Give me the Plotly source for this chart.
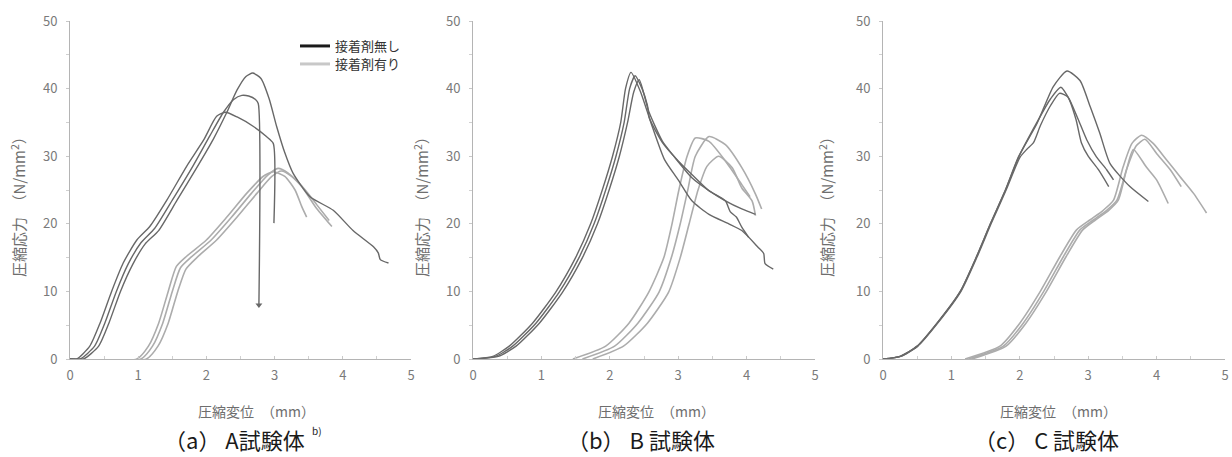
import plotly.graph_objects as go

# ---------------- data ----------------
# Panel A : no adhesive (接着剤無し)
A_n1_x = [0, 0.1, 0.29, 0.44, 0.61, 0.78, 0.98, 1.17, 1.42, 1.71, 1.96, 2.15, 2.28, 2.45, 2.69, 2.88, 2.98, 2.99]
A_n1_y = [0, 0, 1.9, 5.3, 10, 14.2, 17.6, 19.6, 23.5, 28.5, 32.4, 35.9, 36.5, 35.8, 34.4, 32.9, 31.9, 20.1]
A_n2_x = [0, 0.15, 0.36, 0.51, 0.68, 0.85, 1.04, 1.24, 1.5, 1.8, 2.05, 2.25, 2.4, 2.52, 2.62, 2.72, 2.76, 2.77]
A_n2_y = [0, 0, 1.9, 5.3, 10, 14, 17.2, 19.3, 23.5, 28.5, 33, 36.5, 38.4, 39, 38.9, 38.4, 37.8, 8]
A_n3_x = [0, 0.2, 0.42, 0.57, 0.74, 0.92, 1.1, 1.3, 1.57, 1.87, 2.1, 2.3, 2.45, 2.58, 2.68, 2.8, 2.92, 3.03, 3.15, 3.27,
          3.52, 3.86, 4.15, 4.45, 4.52, 4.55, 4.67]
A_n3_y = [0, 0, 1.9, 5.3, 10, 14, 17, 19, 23.5, 28.5, 32.5, 36.5, 39.8, 41.8, 42.3, 41.5, 38.5, 34.4, 30.5, 27.5,
          24, 22, 19, 16.6, 15.7, 14.7, 14.2]
# Panel A : with adhesive (接着剤有り)
A_a1_x = [0, 0.98, 1.15, 1.3, 1.44, 1.56, 1.71, 2.0, 2.3, 2.59, 2.83, 2.98, 3.15, 3.3, 3.4, 3.47]
A_a1_y = [0, 0, 1.9, 5.3, 10, 13.7, 15.2, 17.6, 21, 24.5, 27, 27.7, 27, 25, 22.5, 21]
A_a2_x = [0, 1.04, 1.21, 1.36, 1.5, 1.62, 1.78, 2.07, 2.37, 2.66, 2.9, 3.05, 3.2, 3.4, 3.6, 3.84]
A_a2_y = [0, 0, 1.9, 5.3, 10, 13.5, 15.1, 17.6, 21, 24.5, 27.2, 28.2, 27.5, 25.5, 22.5, 19.6]
A_a3_x = [0, 1.12, 1.29, 1.44, 1.58, 1.7, 1.86, 2.15, 2.45, 2.74, 2.96, 3.1, 3.25, 3.45, 3.62, 3.8]
A_a3_y = [0, 0, 1.9, 5.3, 10, 13.3, 15, 17.6, 21, 24.5, 27, 27.8, 27, 25, 22.8, 20.5]

# Panel B : no adhesive
B_n1_x = [0, 0.29, 0.53, 0.87, 1.21, 1.5, 1.72, 1.89, 2.04, 2.16, 2.23, 2.31, 2.45, 2.6, 2.8, 3.0, 3.2, 3.45, 3.74, 3.93, 4.17, 4.25, 4.27, 4.39]
B_n1_y = [0, 0.4, 1.9, 5.3, 9.9, 15, 20, 25, 30, 35, 40, 42.4, 39.5, 35, 29.5, 26.5, 23.4, 21.4, 20, 19, 16.5, 15.6, 14.1, 13.3]
B_n2_x = [0, 0.33, 0.58, 0.92, 1.26, 1.55, 1.77, 1.94, 2.09, 2.21, 2.29, 2.37, 2.47, 2.55, 2.58, 2.77, 3.0, 3.2, 3.45, 3.69, 3.76, 3.85, 3.93, 4.03]
B_n2_y = [0, 0.4, 1.9, 5.3, 9.9, 15, 20, 25, 30, 35, 40, 41.9, 40, 37.5, 35.6, 32, 29.3, 27.3, 24.9, 23.4, 21.8, 21, 19.5, 18]
B_n3_x = [0, 0.37, 0.63, 0.97, 1.31, 1.6, 1.82, 1.99, 2.14, 2.26, 2.35, 2.43, 2.57, 2.77, 2.96, 3.2, 3.45, 3.69, 3.93, 4.13]
B_n3_y = [0, 0.4, 1.9, 5.3, 9.9, 15, 20, 25, 30, 35, 39.5, 41.3, 36.6, 32.2, 29.7, 26.8, 24.9, 23.4, 22.2, 21.4]
# Panel B : with adhesive
B_a1_x = [1.46, 1.94, 2.28, 2.57, 2.79, 2.91, 3.01, 3.13, 3.25, 3.45, 3.69, 3.93, 4.05]
B_a1_y = [0, 1.9, 5.3, 9.9, 15, 20, 25, 30, 32.7, 32.2, 29.3, 25.8, 24]
B_a2_x = [1.6, 2.07, 2.41, 2.72, 2.9, 3.03, 3.14, 3.25, 3.45, 3.69, 3.93, 4.13, 4.22]
B_a2_y = [0, 1.9, 5.3, 9.9, 15, 20, 25, 30, 32.9, 31.7, 28.3, 24.4, 22.2]
B_a3_x = [1.75, 2.2, 2.55, 2.86, 3.03, 3.16, 3.29, 3.42, 3.59, 3.79, 3.93, 4.08, 4.13]
B_a3_y = [0, 1.9, 5.3, 9.9, 15, 20, 25, 28.5, 30, 28.3, 25.3, 23.4, 21.2]

# Panel C : no adhesive
C_n1_x = [0, 0.25, 0.5, 0.79, 1.13, 1.37, 1.57, 1.79, 1.98, 2.25, 2.49, 2.69, 2.88, 3.03, 3.17, 3.32, 3.61, 3.88]
C_n1_y = [0, 0.4, 1.9, 5.3, 10, 15.2, 20, 25, 29.9, 34.8, 40.3, 42.6, 41.2, 37.3, 33.4, 28.9, 25.5, 23.3]
C_n2_x = [0, 0.25, 0.5, 0.79, 1.13, 1.37, 1.57, 1.79, 1.99, 2.25, 2.45, 2.6, 2.73, 2.88, 2.98, 3.12, 3.27, 3.37]
C_n2_y = [0, 0.4, 1.9, 5.3, 10, 15.2, 20, 25, 30, 35, 38.5, 40.2, 38.3, 34.8, 32.4, 29.9, 28, 26.5]
C_n3_x = [0, 0.26, 0.51, 0.8, 1.14, 1.38, 1.58, 1.8, 2.0, 2.1, 2.2, 2.3, 2.45, 2.58, 2.7, 2.82, 2.9, 3.0, 3.15, 3.3]
C_n3_y = [0, 0.4, 1.9, 5.3, 10, 15.2, 20, 25, 29.8, 31, 32, 34.5, 37.5, 39.3, 38.8, 35.5, 32, 30, 28, 25.5]
# Panel C : with adhesive
C_a1_x = [1.2, 1.71, 2.0, 2.3, 2.59, 2.83, 3.03, 3.22, 3.37, 3.51, 3.64, 3.78, 3.95, 4.15, 4.34, 4.54, 4.73]
C_a1_y = [0, 1.9, 5.3, 10, 15.2, 19.1, 20.6, 22, 23.5, 28.4, 31.9, 33.1, 31.9, 29.4, 27, 24.5, 21.6]
C_a2_x = [1.25, 1.76, 2.05, 2.35, 2.64, 2.88, 3.08, 3.27, 3.42, 3.56, 3.7, 3.83, 4.0, 4.2, 4.36]
C_a2_y = [0, 1.9, 5.3, 10, 15.2, 19.1, 20.6, 22, 23.5, 28, 31.5, 32.5, 30.4, 28, 25.5]
C_a3_x = [1.3, 1.8, 2.09, 2.39, 2.68, 2.92, 3.11, 3.3, 3.44, 3.56, 3.66, 3.85, 4.0, 4.17]
C_a3_y = [0, 1.9, 5.3, 10, 15.2, 19.1, 20.6, 22, 23.5, 28, 31, 28.4, 26.5, 23]

x_ticks = [0, 1, 2, 3, 4, 5]
y_ticks = [0, 10, 20, 30, 40, 50]
legend_labels = ["接着剤無し", "接着剤有り"]
captions = ["（a） A試験体", "（b） B 試験体", "（c） C 試験体"]
x_title = "圧縮変位　（mm）"
y_title = "圧縮応力　（N/mm<sup>2</sup>）"

# ---------------- styling ----------------
FONT = "Noto Sans CJK JP"
DARK = "#686868"
LIGHT = "#acacac"
W, H = 1232, 457

panels = [
    ("x", "y", [(A_n1_x, A_n1_y), (A_n2_x, A_n2_y), (A_n3_x, A_n3_y)],
     [(A_a1_x, A_a1_y), (A_a2_x, A_a2_y), (A_a3_x, A_a3_y)]),
    ("x2", "y2", [(B_n1_x, B_n1_y), (B_n2_x, B_n2_y), (B_n3_x, B_n3_y)],
     [(B_a1_x, B_a1_y), (B_a2_x, B_a2_y), (B_a3_x, B_a3_y)]),
    ("x3", "y3", [(C_n1_x, C_n1_y), (C_n2_x, C_n2_y), (C_n3_x, C_n3_y)],
     [(C_a1_x, C_a1_y), (C_a2_x, C_a2_y), (C_a3_x, C_a3_y)]),
]

fig = go.Figure()
for xa, ya, none_curves, adh_curves in panels:
    for cx, cy in adh_curves:
        fig.add_trace(go.Scatter(x=cx, y=cy, mode="lines", xaxis=xa, yaxis=ya,
                                 line=dict(color=LIGHT, width=1.6, shape="spline", smoothing=0.6),
                                 showlegend=False, hoverinfo="skip"))
    for cx, cy in none_curves:
        fig.add_trace(go.Scatter(x=cx, y=cy, mode="lines", xaxis=xa, yaxis=ya,
                                 line=dict(color=DARK, width=1.4, shape="spline", smoothing=0.6),
                                 showlegend=False, hoverinfo="skip"))

# arrow head at the end of the sudden drop in panel A
fig.add_trace(go.Scatter(x=[A_n2_x[-1]], y=[A_n2_y[-1]], mode="markers", xaxis="x", yaxis="y",
                         marker=dict(symbol="triangle-down", size=6, color=DARK),
                         showlegend=False, hoverinfo="skip"))

# legend entries (two independent legends so their spacing matches)
fig.add_trace(go.Scatter(x=[None], y=[None], mode="lines", name=legend_labels[0], legend="legend",
                         line=dict(color="#1a1a1a", width=3)))
fig.add_trace(go.Scatter(x=[None], y=[None], mode="lines", name=legend_labels[1], legend="legend2",
                         line=dict(color="#c8c8c8", width=3)))

# panel geometry (pixels)
x_px = [(70, 411), (473, 815), (883, 1225)]
y_px = (21, 359)  # top, bottom
ydom = [1 - y_px[1] / H, 1 - y_px[0] / H]

axis_common = dict(showgrid=False, zeroline=False, showline=True, linecolor="#b4b4b4", linewidth=1,
                   automargin=False,
                   tickfont=dict(family=FONT, size=13, color="#7a7a7a"))
leg_common = dict(xanchor="left", yanchor="middle", bgcolor="rgba(0,0,0,0)",
                  font=dict(family=FONT, size=13, color="#333333"), itemwidth=30,
                  borderwidth=0)
layout = dict(width=W, height=H, margin=dict(l=0, r=0, t=0, b=0, autoexpand=False),
              paper_bgcolor="white", plot_bgcolor="white",
              font=dict(family=FONT),
              showlegend=True,
              legend=dict(leg_common, x=295 / W, y=1 - 46 / H),
              legend2=dict(leg_common, x=295 / W, y=1 - 64 / H))
for i, (l, r) in enumerate(x_px):
    suf = "" if i == 0 else str(i + 1)
    layout["xaxis" + suf] = dict(axis_common, domain=[l / W, r / W], range=[0, 5], anchor="y" + suf,
                                 tickvals=x_ticks, ticks="inside", ticklen=3, tickcolor="#c8c8c8",
                                 ticklabelstandoff=4,
                                 minor=dict(dtick=0.5, ticks="inside", ticklen=3, tickcolor="#d0d0d0"))
    layout["yaxis" + suf] = dict(axis_common, domain=ydom, range=[0, 50], anchor="x" + suf,
                                 tickvals=y_ticks, ticks="outside", ticklen=3, tickcolor="#c8c8c8",
                                 ticklabelstandoff=6,
                                 minor=dict(dtick=5, ticks="outside", ticklen=3, tickcolor="#d0d0d0"))
fig.update_layout(**layout)

annotations = []
x_title_cx = [256, 656, 1058]
y_title_cx = [18, 421, 826]
cap_left = [162, 565, 972]
for i in range(3):
    annotations.append(dict(text=x_title, x=x_title_cx[i] / W, y=1 - 411 / H, xref="paper", yref="paper",
                            showarrow=False, font=dict(family=FONT, size=14, color="#6e6e6e"),
                            xanchor="center", yanchor="middle"))
    annotations.append(dict(text=y_title, x=y_title_cx[i] / W, y=1 - 203 / H, xref="paper", yref="paper",
                            showarrow=False, textangle=-90, font=dict(family=FONT, size=15, color="#6e6e6e"),
                            xanchor="center", yanchor="middle"))
    annotations.append(dict(text=captions[i], x=cap_left[i] / W, y=0, xref="paper", yref="paper",
                            showarrow=False, font=dict(family=FONT, size=22, color="#1a1a1a"),
                            xanchor="left", yanchor="bottom"))
annotations.append(dict(text="b)", x=317 / W, y=1 - 430 / H, xref="paper", yref="paper", showarrow=False,
                        font=dict(family=FONT, size=10, color="#1a1a1a"), xanchor="center", yanchor="middle"))
fig.update_layout(annotations=annotations)

fig.write_html("out.html", config={"displayModeBar": False},
               post_script="document.body.style.margin='0';document.body.style.padding='0';"
                           "document.body.style.overflow='hidden';")
